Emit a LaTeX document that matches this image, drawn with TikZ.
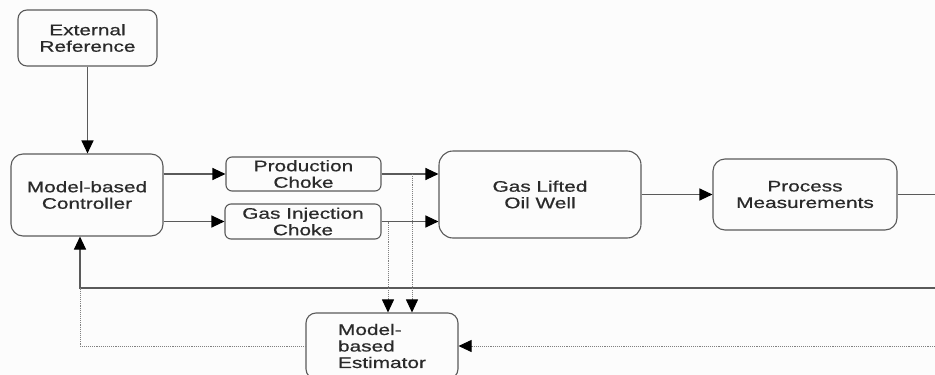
\documentclass[tikz,border=0pt]{standalone}
\usepackage{fontspec}
\setmainfont{Liberation Sans}[FakeStretch=1.36, FakeBold=0.6]
\usetikzlibrary{arrows.meta}
\definecolor{boxline}{HTML}{5A5A5A}
\definecolor{boxtext}{HTML}{2A2A2A}
\definecolor{paper}{HTML}{FCFCFC}

\begin{document}
\begin{tikzpicture}[x=1pt, y=-1pt,
    blk/.style={draw=boxline, line width=1.1pt, rounded corners=9pt, text=boxtext,
                align=center, inner sep=0pt, font=\fontsize{15.3}{16.5}\selectfont},
    sig/.style={draw=boxline, line width=1.1pt, -{Triangle[length=13pt,width=12pt,color=black]}},
    obs/.style={draw=gray, line width=0.9pt, densely dotted},
    obsarr/.style={obs, -{Triangle[length=13pt,width=12pt,color=black]}}]
    \useasboundingbox (0,0) rectangle (935,375);
    \clip (0,0) rectangle (935,375);
    \fill[paper] (0,0) rectangle (935,375);

    \node[blk, minimum width=139pt, minimum height=56pt] (extref) at (87.5,38) {External\\Reference};
    \node[blk, minimum width=152pt, minimum height=82pt, rounded corners=12pt] (ctrl) at (87,195) {Model-based\\Controller};
    \node[blk, minimum width=155pt, minimum height=34pt, rounded corners=6pt] (prodchoke) at (303.5,174) {Production\\Choke};
    \node[blk, minimum width=156pt, minimum height=35pt, rounded corners=6pt] (gaschoke) at (303,221.5) {Gas Injection\\Choke};
    \node[blk, minimum width=202pt, minimum height=87pt, rounded corners=14pt] (well) at (540,194.5) {Gas Lifted\\Oil Well};
    \node[blk, minimum width=184pt, minimum height=71pt, rounded corners=12pt] (meas) at (805,194.5) {Process\\Measurements};
    \node[blk, minimum width=152pt, minimum height=66pt, rounded corners=10pt, align=left] (estim) at (382,346) {Model-\\based\\Estimator};

    \coordinate (outR) at (935,193);    % to the right, out of view
    \coordinate (inR) at (935,288);     % feedback back in
    \coordinate (estR) at (935,346);
    \coordinate (fbcorner) at (80,288);
    \coordinate (tapP) at (412,0);
    \coordinate (tapG) at (388,0);

    \draw[sig] (extref.south) -- (extref.south |- ctrl.north);
    \draw[sig] (ctrl.east |- prodchoke.west) -- (prodchoke.west);
    \draw[sig] (ctrl.east |- gaschoke.west) -- (gaschoke.west);
    \draw[sig] (prodchoke.east) -- (prodchoke.east -| well.west);
    \draw[sig] (gaschoke.east) -- (gaschoke.east -| well.west);
    \draw[sig] (well.east |- meas.west) -- (meas.west);
    \draw[draw=boxline, line width=1.1pt] (meas.east) -- (meas.east -| outR);

    % feedback to controller
    \draw[sig] (inR) -- (fbcorner) -- (fbcorner |- ctrl.south);
    \draw[obs] (estim.west) -| (fbcorner);

    % measured inputs to estimator
    \draw[obsarr] (prodchoke.east -| tapP) -- (tapP |- estim.north);
    \draw[obsarr] (gaschoke.east -| tapG) -- (tapG |- estim.north);
    \draw[obsarr] (estR) -- (estim.east);
\end{tikzpicture}
\end{document}
